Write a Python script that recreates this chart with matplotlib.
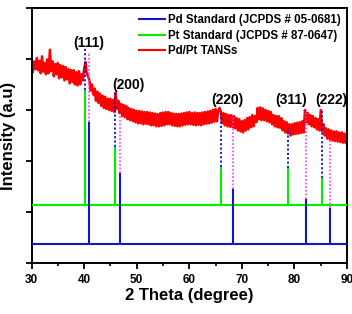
import numpy as np
import matplotlib
matplotlib.use('Agg')
import matplotlib.pyplot as plt

# measured Pd/Pt TANSs pattern, read every 0.25 deg from 30 to 90
tans_start, tans_step = 30.0, 0.25
tans_int = [
    3.98, 3.74, 3.95, 3.80, 4.02, 3.78, 3.96, 3.72, 4.05, 3.75, 3.92, 3.70,
    3.99, 3.72, 4.18, 3.76, 3.95, 3.66, 3.90, 3.70, 3.92, 3.62, 3.88, 3.64,
    3.86, 3.58, 3.84, 3.60, 3.80, 3.52, 3.78, 3.55, 3.78, 3.50, 3.74, 3.48,
    3.76, 3.50, 3.70, 3.58, 3.80, 3.94, 3.72, 3.66, 3.58, 3.38, 3.50, 3.30,
    3.42, 3.18, 3.36, 3.14, 3.32, 3.08, 3.28, 3.04, 3.26, 3.02, 3.22, 3.00,
    3.22, 2.98, 3.20, 2.96, 3.34, 3.02, 3.18, 2.94, 3.12, 2.88, 3.10, 2.86,
    3.08, 2.82, 3.04, 2.80, 3.02, 2.78, 3.00, 2.76, 2.98, 2.74, 2.98, 2.74,
    2.97, 2.72, 2.96, 2.73, 2.96, 2.72, 2.95, 2.70, 2.94, 2.70, 2.93, 2.68,
    2.92, 2.68, 2.94, 2.69, 2.95, 2.70, 2.96, 2.72, 2.96, 2.72, 2.94, 2.70,
    2.93, 2.69, 2.92, 2.68, 2.92, 2.68, 2.93, 2.70, 2.94, 2.71, 2.95, 2.72,
    2.96, 2.72, 2.94, 2.71, 2.95, 2.70, 2.94, 2.71, 2.94, 2.70, 2.95, 2.72,
    2.96, 2.73, 2.97, 2.74, 2.98, 2.75, 3.00, 2.77, 3.02, 2.78, 2.98, 3.04,
    2.96, 2.74, 2.94, 2.70, 2.92, 2.68, 2.90, 2.67, 2.90, 2.66, 2.88, 2.64,
    2.84, 2.60, 2.82, 2.58, 2.78, 2.56, 2.80, 2.60, 2.84, 2.62, 2.86, 2.66,
    2.90, 2.68, 2.88, 2.76, 3.04, 2.82, 3.05, 2.80, 3.03, 2.80, 3.00, 2.78,
    2.98, 2.76, 2.96, 2.72, 2.90, 2.68, 2.88, 2.66, 2.88, 2.65, 2.84, 2.60,
    2.78, 2.56, 2.76, 2.54, 2.72, 2.50, 2.72, 2.52, 2.74, 2.53, 2.75, 2.54,
    2.76, 2.55, 2.78, 2.56, 3.00, 2.76, 2.94, 2.72, 2.90, 2.68, 2.88, 2.66,
    2.84, 2.62, 2.82, 2.60, 3.00, 2.58, 2.72, 2.50, 2.64, 2.44, 2.62, 2.42,
    2.60, 2.40, 2.58, 2.39, 2.58, 2.38, 2.56, 2.37, 2.56, 2.36, 2.54, 2.35,
    2.53,
]

# reference sticks
pt_pos = [40.2, 45.9, 66.0, 78.7, 85.2]
pt_top = [3.39, 2.27, 1.88, 1.86, 1.67]
pt_base = 1.14
pd_pos = [40.9, 46.8, 68.4, 82.2, 86.8]
pd_top = [2.76, 1.76, 1.45, 1.25, 1.08]
pd_base = 0.37

# guide lines up to the measured pattern
pt_guide_top = [4.24, 3.33, 2.94, 2.65, 3.00]
pd_guide_top = [4.14, 2.90, 2.90, 3.00, 2.41]

hkl_labels = ['(111)', '(200)', '(220)', '(311)', '(222)']
hkl_x = [40.8, 48.4, 67.3, 79.3, 87.0]
hkl_y = [4.31, 3.49, 3.20, 3.20, 3.20]

plt.rcParams['font.family'] = ['Liberation Sans', 'DejaVu Sans']
plt.rcParams['font.weight'] = 'bold'

fig = plt.figure(figsize=(3.52, 3.14), dpi=100)
ax = fig.add_axes([0.0895, 0.162, 0.8965, 0.813])

tx = tans_start + tans_step * np.arange(len(tans_int))
ax.plot(tx, tans_int, color='#ff0000', lw=1.8, zorder=2)

ax.axhline(pt_base, color='#00ee00', lw=1.5, zorder=3)
ax.vlines(pt_pos, pt_base, pt_top, color='#00ee00', lw=1.5, zorder=3)
ax.axhline(pd_base, color='#1515c8', lw=1.5, zorder=3)
ax.vlines(pd_pos, pd_base, pd_top, color='#1515c8', lw=1.5, zorder=3)

ax.vlines(pt_pos, pt_top, pt_guide_top, color='#1515c8', lw=1.3,
          linestyles=(0, (1.2, 1.2)), zorder=4)
ax.vlines(pd_pos, pd_top, pd_guide_top, color='#ff33ff', lw=1.1,
          linestyles=(0, (1.2, 1.2)), zorder=4)

for lab, x, y in zip(hkl_labels, hkl_x, hkl_y):
    ax.text(x, y, lab, ha='center', va='center', fontsize=10, fontweight='bold')

ax.plot([], [], color='#1515c8', lw=1.5, label='Pd Standard (JCPDS # 05-0681)')
ax.plot([], [], color='#00ee00', lw=1.5, label='Pt Standard (JCPDS # 87-0647)')
ax.plot([], [], color='#ff0000', lw=1.5, label='Pd/Pt TANSs')
ax.legend(loc='upper right', frameon=False, handlelength=2.2,
          handletextpad=0.3, labelspacing=0.3, borderaxespad=0.15,
          prop={'weight': 'bold', 'size': 8.3})

ax.set_xlim(30, 90)
ax.set_ylim(0, 5)
ax.set_xticks([30, 40, 50, 60, 70, 80, 90])
ax.set_xticks([35, 45, 55, 65, 75, 85], minor=True)
ax.set_yticks([0, 1, 2, 3, 4, 5])
ax.set_yticklabels([])
ax.tick_params(axis='both', which='major', direction='out', length=4, width=1.3,
               labelsize=8.5)
ax.tick_params(axis='x', which='minor', direction='out', length=2.5, width=1.2)
for lab in ax.get_xticklabels():
    lab.set_fontweight('bold')
for s in ax.spines.values():
    s.set_linewidth(1.4)

ax.set_xlabel('2 Theta (degree)', fontsize=12, fontweight='bold', labelpad=2)
ax.set_ylabel('Intensity (a.u)', fontsize=12, fontweight='bold', labelpad=4)

fig.savefig('out.png', dpi=100)
